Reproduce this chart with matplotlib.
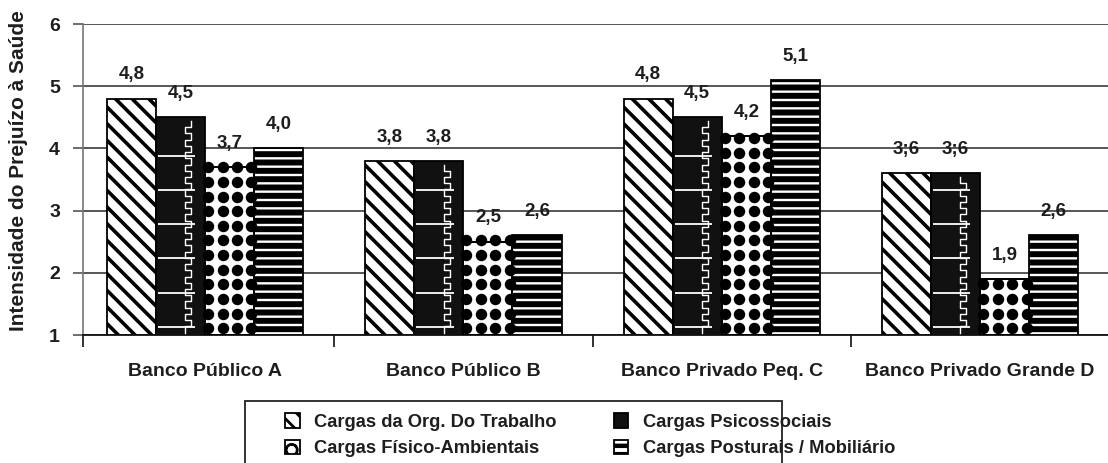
import numpy as np
import matplotlib
matplotlib.use("Agg")
import matplotlib.pyplot as plt
from matplotlib.patches import Rectangle

# --- data -------------------------------------------------------------
banks = ["Banco Público A", "Banco Público B", "Banco Privado Peq. C", "Banco Privado Grande D"]

series_names = [
    "Cargas da Org. Do Trabalho",
    "Cargas Psicossociais",
    "Cargas Físico-Ambientais",
    "Cargas Posturais / Mobiliário",
]

org_trabalho = [4.8, 3.8, 4.8, 3.6]
psicossociais = [4.5, 3.8, 4.5, 3.6]
fisico_ambientais = [3.7, 2.5, 4.2, 1.9]
posturais = [4.0, 2.6, 5.1, 2.6]

org_trabalho_txt = ["4,8", "3,8", "4,8", "3;6"]
psicossociais_txt = ["4,5", "3,8", "4,5", "3;6"]
fisico_ambientais_txt = ["3,7", "2,5", "4,2", "1,9"]
posturais_txt = ["4,0", "2,6", "5,1", "2,6"]

y_ticks = [1, 2, 3, 4, 5, 6]
y_title = "Intensidade do Prejuízo à Saúde"

# --- style ------------------------------------------------------------
plt.rcParams["font.family"] = ["Liberation Sans", "DejaVu Sans"]
plt.rcParams["font.weight"] = "bold"
plt.rcParams["hatch.color"] = "black"
TXT = "#1e1e1e"

W, H = 1108, 463
fig = plt.figure(figsize=(W / 100, H / 100), dpi=100)
ax = fig.add_axes([83 / W, (H - 335) / H, (W - 83) / W, 311 / H])

x = np.arange(len(banks))
bw = 0.19
offsets = (np.arange(4) - 1.5) * bw

styles = [
    dict(facecolor="white", hatch="\\\\", hlw=2.6),
    dict(facecolor="#111111", hatch=None, hlw=1.0),
    dict(facecolor="white", hatch=None, hlw=1.0),
    dict(facecolor="white", hatch="--", hlw=4.3),
]
values = [org_trabalho, psicossociais, fisico_ambientais, posturais]
texts = [org_trabalho_txt, psicossociais_txt, fisico_ambientais_txt, posturais_txt]

containers = []
for vals, off, st, name in zip(values, offsets, styles, series_names):
    heights = np.asarray(vals) - 1.0
    bars = ax.bar(x + off, heights, bw, bottom=1.0, facecolor=st["facecolor"],
                  edgecolor="black", linewidth=1.3, hatch=st["hatch"],
                  label=name, zorder=2)
    for p in bars:
        if hasattr(p, "set_hatch_linewidth"):
            p.set_hatch_linewidth(st["hlw"])
    containers.append(bars)

# white rulings and stepped line inside the psychosocial bars
for p in containers[1]:
    x0, w, y0, h = p.get_x(), p.get_width(), p.get_y(), p.get_height()
    top = y0 + h
    rows = np.arange(y0 + 0.13, top - 0.1, 0.55)
    ax.hlines(rows, x0 + 0.04 * w, x0 + 0.8 * w, colors="white", linewidth=1.3,
              zorder=3, clip_path=p)
    xc = x0 + 0.6 * w
    amp = 0.12 * w
    steps = np.arange(y0 + 0.04, top - 0.08, 0.1)
    zx, zy = [], []
    for i, s in enumerate(steps):
        xx = xc + (amp if i % 2 else 0.0)
        zx += [xx, xx]
        zy += [s, s + 0.1]
    ax.plot(zx, zy, color="white", linewidth=1.0, zorder=3, clip_path=p)

# dotted texture inside the physical-environment bars
for p in containers[2]:
    x0, w, y0, h = p.get_x(), p.get_width(), p.get_y(), p.get_height()
    cols = np.arange(x0 + 0.012, x0 + w + 0.03, 0.056)
    rows = np.arange(y0 + 0.11, y0 + h + 0.1, 0.235)
    gx, gy = np.meshgrid(cols, rows)
    ax.scatter(gx.ravel(), gy.ravel(), s=68, marker="o", color="black",
               linewidths=0, zorder=3, clip_path=p)
    ax.add_patch(Rectangle((x0, y0), w, h, fill=False, edgecolor="black",
                           linewidth=1.3, zorder=3.5))

# value labels
for bars, vals, labs in zip(containers, values, texts):
    for p, v, t in zip(bars, vals, labs):
        ax.annotate(t, (p.get_x() + p.get_width() / 2, v), xytext=(0, 11),
                    textcoords="offset points", ha="center", va="bottom",
                    fontsize=13.5, fontweight="bold", color=TXT, zorder=4)

# axes
ax.set_ylim(1, 6)
ax.set_xlim(-0.472, 3.495)
ax.set_yticks(y_ticks)
ax.set_yticklabels([str(v) for v in y_ticks], fontsize=14, fontweight="bold", color=TXT)
ax.tick_params(axis="y", direction="out", length=7.5, width=1.2, color="#555555", pad=9)
ax.yaxis.grid(True, color="#3a3a3a", linewidth=1.2)
ax.set_axisbelow(True)

ax.set_xticks(x)
ax.set_xticklabels(banks, fontsize=14, fontweight="bold", color=TXT)
ax.tick_params(axis="x", which="major", length=0, pad=20)
ax.set_xticks([ax.get_xlim()[0], 0.5, 1.5, 2.5], minor=True)
ax.tick_params(axis="x", which="minor", direction="out", length=8.5, width=1.3, color="#222222")

for side in ("top", "right"):
    ax.spines[side].set_visible(False)
ax.spines["left"].set_color("#777777")
ax.spines["left"].set_linewidth(1.2)
ax.spines["bottom"].set_color("#111111")
ax.spines["bottom"].set_linewidth(1.3)

fig.text(18.5 / W, (H - 171) / H, y_title, rotation=90, ha="center", va="center",
         fontsize=15, fontweight="bold", color=TXT)

# legend (the dotted series gets a circle-hatched swatch)
swatch_fis = Rectangle((0, 0), 1, 1, facecolor="white", edgecolor="black",
                       linewidth=1.3, hatch="O")
legend_handles = [containers[0], swatch_fis, containers[1], containers[3]]
labels = [series_names[0], series_names[2], series_names[1], series_names[3]]
swatch_hlw = [2.0, 1.6, 1.0, 3.2]
leg = fig.legend(legend_handles, labels, ncol=2, loc="upper left",
                 bbox_to_anchor=(285 / W, (H - 413) / H), frameon=False,
                 borderpad=0, borderaxespad=0, handlelength=0.8, handleheight=0.85,
                 handletextpad=0.8, columnspacing=3.1, labelspacing=0.5,
                 prop=dict(size=13.2, weight="bold"))
for t in leg.get_texts():
    t.set_color(TXT)
for hnd, lw in zip(leg.legend_handles, swatch_hlw):
    if hasattr(hnd, "set_hatch_linewidth"):
        hnd.set_hatch_linewidth(lw)

fig.patches.append(Rectangle((245 / W, -0.05), (782 - 245) / W, (H - 401) / H + 0.05,
                             transform=fig.transFigure, fill=False,
                             edgecolor="#222222", linewidth=1.3))

fig.savefig("out.png", dpi=100)
